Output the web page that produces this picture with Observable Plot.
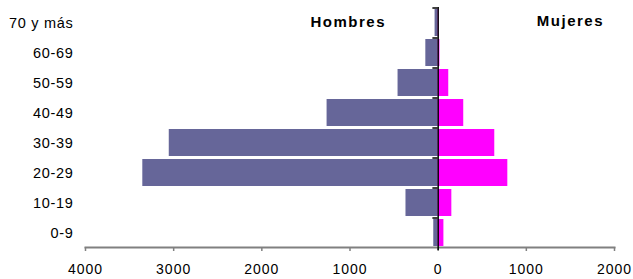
<!DOCTYPE html>
<html>
<head>
<meta charset="utf-8">
<script src="https://cdn.jsdelivr.net/npm/d3@7"></script>
<script src="https://cdn.jsdelivr.net/npm/@observablehq/plot@0.6"></script>
<style>
  html, body { margin: 0; padding: 0; background: #fff; }
  #chart svg { display: block; }
  g[aria-label="y-axis tick label"] text { letter-spacing: 0.7px; }
  g[aria-label="x-axis tick label"] text { letter-spacing: 1px; }
  g[aria-label="text"] text { letter-spacing: 1.5px; }
</style>
</head>
<body>
<div id="chart"></div>
<script>
// Age groups, top to bottom
const ageGroups = ["70 y más", "60-69", "50-59", "40-49", "30-39", "20-29", "10-19", "0-9"];
// Values per age group (same order)
const hombres = [35, 140, 455, 1260, 3050, 3350, 365, 50];
const mujeres = [8, 20, 120, 290, 642, 790, 155, 65];
const xTicks = [-4000, -3000, -2000, -1000, 0, 1000, 2000];
const seriesLabels = ["Hombres", "Mujeres"];

const rows = [];
ageGroups.forEach((g, i) => {
  rows.push({group: g, sex: seriesLabels[0], x1: -hombres[i], x2: 0});
  rows.push({group: g, sex: seriesLabels[1], x1: 0, x2: mujeres[i]});
});
const colors = {"Hombres": "#666699", "Mujeres": "#FF00FF"};

const chart = Plot.plot({
  width: 633,
  height: 279,
  marginTop: 7,
  marginBottom: 32,
  marginLeft: 85,
  marginRight: 19,
  style: {fontFamily: "'Liberation Sans', Arial, sans-serif", background: "#fff", color: "#000"},
  x: {domain: [-4000, 2000]},
  y: {domain: ageGroups, paddingInner: 0.1, paddingOuter: 0.05},
  marks: [
    Plot.barX(rows, {y: "group", x1: "x1", x2: "x2", fill: d => colors[d.sex]}),
    Plot.frame({anchor: "bottom", stroke: "#808080", strokeWidth: 2}),
    Plot.axisX({ticks: xTicks, tickFormat: d => String(Math.abs(d)), tickSize: 4, tickPadding: 13,
      stroke: "#808080", strokeWidth: 1.5, fontSize: 14, label: null, fill: "#000"}),
    Plot.axisY({tickSize: 0, tickPadding: 12, fontSize: 14.5, label: null, fill: "#000"}),
    Plot.ruleY(ageGroups, {y: d => d, x1: -60, x2: 0, dy: -15, stroke: "#000", strokeWidth: 1.5}),
    Plot.ruleX([0], {stroke: "#000", strokeWidth: 1.5, insetBottom: -3}),
    Plot.text([seriesLabels[0]], {x: -1020, frameAnchor: "top", dy: 9, text: d => d,
      fontSize: 15, fontWeight: "bold", fill: "#000"}),
    Plot.text([seriesLabels[1]], {x: 1500, frameAnchor: "top", dy: 8, text: d => d,
      fontSize: 15, fontWeight: "bold", fill: "#000"})
  ]
});
document.getElementById("chart").appendChild(chart);
</script>
</body>
</html>
